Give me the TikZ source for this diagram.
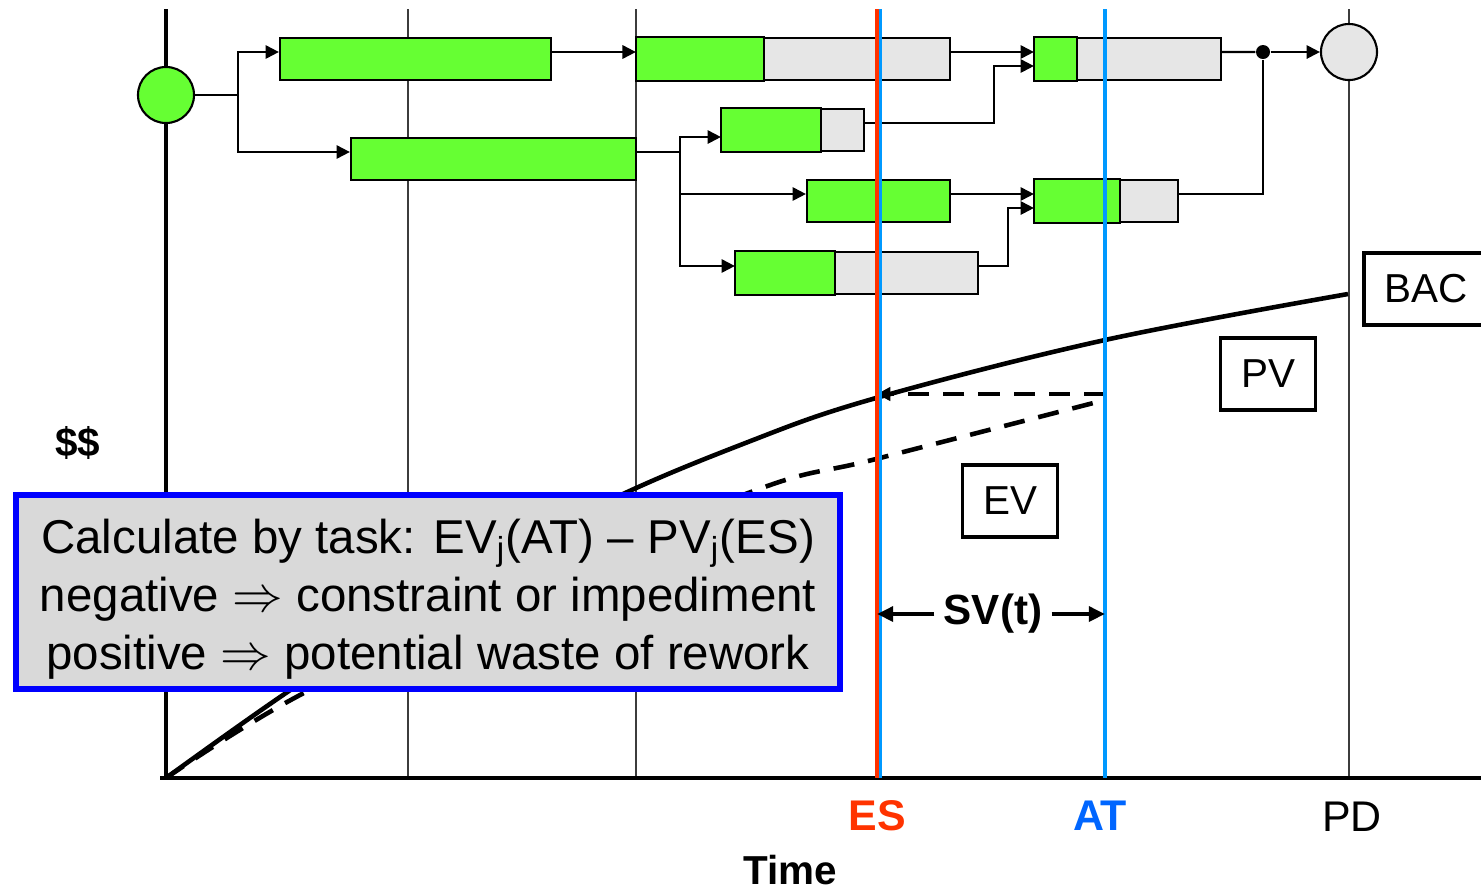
\documentclass[tikz,border=0pt]{standalone}
\usepackage{fontspec}
\setmainfont{Liberation Sans}
\usetikzlibrary{arrows.meta, positioning, calc}
\definecolor{donegreen}{RGB}{102, 255, 51}
\definecolor{todogray}{RGB}{230, 230, 230}
\definecolor{notegray}{RGB}{217, 217, 217}
\definecolor{noteblue}{RGB}{0, 0, 255}
\definecolor{esred}{RGB}{255, 51, 0}
\definecolor{atblue}{RGB}{0, 153, 255}
\definecolor{attext}{RGB}{0, 102, 255}
\definecolor{gridgray}{RGB}{60, 60, 60}

\begin{document}
\begin{tikzpicture}[
    x=0.01cm, y=-0.01cm,
    >={Triangle[length=3.8pt, width=3.8pt]},
    task/.style={draw, line width=0.6pt, fill=donegreen, minimum height=0.42cm, inner sep=0pt},
    donepart/.style={draw, line width=0.6pt, fill=donegreen},
    event/.style={circle, draw, line width=0.6pt, minimum size=0.56cm, inner sep=0pt},
    link/.style={line width=0.6pt},
    flow/.style={line width=0.6pt, ->},
    tag/.style={draw, line width=1.1pt, fill=white, font=\fontsize{11.5}{13}\selectfont, minimum width=0.95cm, minimum height=0.72cm}
  ]

  \useasboundingbox (0,0) rectangle (1481,890);
  \clip (0,0) rectangle (1481,890);

  % Grid
  \foreach \x in {408,636,1349} {
    \draw[gridgray, line width=0.45pt] (\x,9) -- (\x,778);
  }

  % Axes
  \draw[line width=1.4pt] (166,9) -- (166,780);
  \draw[line width=1.4pt] (160,778) -- (1481,778);

  % Status dates
  \coordinate (esTop) at (877,9);
  \coordinate (esBot) at (877,778);
  \coordinate (atTop) at (1105,9);
  \coordinate (atBot) at (1105,778);

  % PV and EV curves
  \draw[line width=1.3pt] plot[smooth, tension=0.6] coordinates {(166,778) (283,695) (430,598) (600,505) (748,442) (876,398) (1105,340) (1348,294)};
  \draw[line width=1.3pt, dash pattern=on 6pt off 4pt] plot[smooth, tension=0.6] coordinates {(166,778) (300,695) (530,585) (759,489) (876,459) (1105,400)};
  \coordinate (evAT) at (1105,394);
  \draw[line width=1.3pt, dash pattern=on 6pt off 4pt, ->] (evAT) -- (evAT -| esBot);

  % Schedule network
  \node[event, fill=donegreen] (start) at (166,95) {};
  \node[event, fill=todogray] (finish) at (1349,52) {};
  \node[circle, fill, inner sep=0pt, minimum size=0.14cm] (dot) at (1263,52) {};

  \node[task, minimum width=2.71cm] (t1) at (415.5,59) {};
  \node[task, fill=todogray, minimum width=3.13cm] (t2) at (793.5,59) {};
  \draw[donepart] (t2.south west) rectangle ([xshift=1.28cm]t2.north west);
  \node[task, fill=todogray, minimum width=1.86cm] (t3) at (1128,59) {};
  \draw[donepart] (t3.south west) rectangle ([xshift=0.43cm]t3.north west);
  \node[task, minimum width=2.85cm] (t4) at (493.5,159) {};
  \node[task, fill=todogray, minimum width=1.42cm] (t5) at (793,130) {};
  \draw[donepart] (t5.south west) rectangle ([xshift=1.00cm]t5.north west);
  \node[task, minimum width=1.43cm] (t6) at (878.5,201) {};
  \node[task, fill=todogray, minimum width=1.43cm] (t7) at (1106.5,201) {};
  \draw[donepart] (t7.south west) rectangle ([xshift=0.86cm]t7.north west);
  \node[task, fill=todogray, minimum width=2.42cm] (t8) at (857,273) {};
  \draw[donepart] (t8.south west) rectangle ([xshift=1.00cm]t8.north west);

  \draw[link] (start.east) -- ++(43,0) coordinate (fork1);
  \draw[flow] (fork1) |- ([yshift=0.07cm]t1.west);
  \draw[flow] (fork1) |- ([yshift=0.07cm]t4.west);
  \draw[flow] ([yshift=0.07cm]t1.east) -- ([yshift=0.07cm]t2.west);
  \draw[flow] ([yshift=0.07cm]t2.east) -- ([yshift=0.07cm]t3.west);
  \draw[flow] ([yshift=0.07cm]t5.east) -- ++(129,0) |- ([yshift=-0.07cm]t3.west);
  \draw[link] ([yshift=0.07cm]t4.east) -- ++(43,0) coordinate (fork2);
  \draw[flow] (fork2) |- ([yshift=-0.07cm]t5.west);
  \draw[flow] (fork2) |- ([yshift=0.07cm]t6.west);
  \draw[flow] (fork2) |- ([yshift=0.07cm]t8.west);
  \draw[flow] ([yshift=0.07cm]t6.east) -- ([yshift=0.07cm]t7.west);
  \draw[flow] ([yshift=0.07cm]t8.east) -- ++(29,0) |- ([yshift=-0.07cm]t7.west);
  \draw[link] ([yshift=0.07cm]t3.east) -- (dot);
  \draw[link] ([yshift=0.07cm]t7.east) -| (dot);
  \draw[flow] (dot) -- (finish);

  % ES and AT lines
  \draw[atblue, line width=0.9pt] ([xshift=0.03cm]esTop) -- ([xshift=0.03cm]esBot);
  \draw[esred, line width=1.4pt] (esTop) -- (esBot);
  \draw[atblue, line width=1.4pt] (atTop) -- (atBot);

  % Schedule variance
  \node[font=\fontsize{12}{14}\selectfont\bfseries, inner sep=2.5pt] (sv) at (993,614) {SV(t)};
  \draw[line width=1.1pt, -{Triangle[length=4.6pt, width=4.2pt]}] (sv.west) -- (sv.west -| esBot);
  \draw[line width=1.1pt, -{Triangle[length=4.6pt, width=4.2pt]}] (sv.east) -- (sv.east -| atBot);

  % Tags
  \node[tag, minimum width=1.25cm, anchor=west] (bac) at (1362,289) {BAC};
  \node[tag] (pv) at (1268,374) {PV};
  \node[tag] (ev) at (1010,501) {EV};

  % Axis labels
  \node[font=\fontsize{11.5}{13}\selectfont\bfseries] (money) at (78,443) {\$\$};
  \node[font=\fontsize{12.2}{14}\selectfont\bfseries, text=esred] (es) at (877,816) {ES};
  \node[font=\fontsize{12.2}{14}\selectfont\bfseries, text=attext] (at) at (1100,816) {AT};
  \node[font=\fontsize{12.2}{14}\selectfont] (pd) at (1352,817) {PD};
  \node[font=\fontsize{11.5}{13}\selectfont\bfseries] (time) at (790,870) {Time};

  % Note
  \node[draw=noteblue, line width=1.7pt, fill=notegray, minimum width=8.24cm, minimum height=1.94cm] (note) at (428,592) {};
  \node[align=center, font=\fontsize{13.5}{16.5}\selectfont] (notetext) at ([yshift=-0.07cm]note.center)
    {Calculate by task: EV\textsubscript{j}(AT) -- PV\textsubscript{j}(ES)\\
     negative $\Rightarrow$ constraint or impediment\\
     positive $\Rightarrow$ potential waste of rework};

\end{tikzpicture}
\end{document}
